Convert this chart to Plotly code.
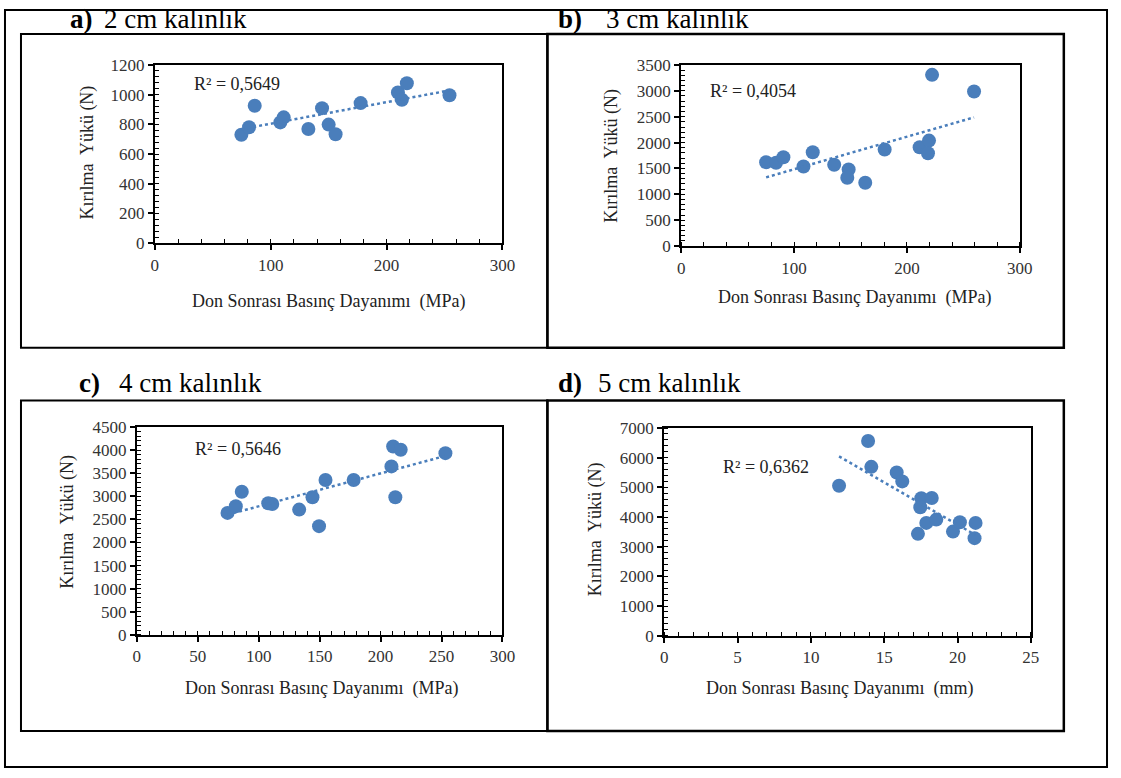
import numpy as np
import plotly.graph_objects as go

W, H = 1121, 778

# ---------------- data ----------------
a_x = [74.7, 81.3, 86.2, 108.3, 111.2, 132.5, 144.3, 150.0, 156.0, 177.6, 209.8, 213.2, 217.5, 254.3]
a_y = [730, 780, 925, 813, 847, 769, 909, 798, 733, 943, 1014, 965, 1077, 996]

b_x = [75.2, 84.0, 90.5, 108.3, 116.5, 135.5, 148.3, 147.1, 163.0, 180.2, 211.2, 219.5, 218.6, 222.2, 259.4]
b_y = [1621, 1609, 1718, 1538, 1814, 1571, 1481, 1321, 1225, 1865, 1910, 2038, 1794, 3308, 2987]

c_x = [74.4, 81.2, 86.1, 107.8, 111.1, 133.2, 144.1, 149.5, 154.8, 177.9, 208.9, 210.3, 216.5, 212.1, 253.2]
c_y = [2640, 2784, 3099, 2849, 2834, 2711, 2978, 2353, 3351, 3351, 3646, 4078, 4005, 2978, 3933]

d_x = [11.92, 13.9, 14.12, 15.85, 16.23, 17.53, 18.24, 17.46, 17.87, 18.55, 17.3, 19.69, 20.16, 21.23, 21.16]
d_y = [5054, 6564, 5691, 5503, 5201, 4631, 4641, 4329, 3802, 3913, 3433, 3510, 3826, 3802, 3289]

r2_labels = ["R² = 0,5649", "R² = 0,4054", "R² = 0,5646", "R² = 0,6362"]
panel_letters = ["a)", "b)", "c)", "d)"]
panel_titles = ["2 cm kalınlık", "3 cm kalınlık", "4 cm kalınlık", "5 cm kalınlık"]
y_title = "Kırılma  Yükü (N)"
x_titles = ["Don Sonrası Basınç Dayanımı  (MPa)", "Don Sonrası Basınç Dayanımı  (MPa)",
            "Don Sonrası Basınç Dayanımı  (MPa)", "Don Sonrası Basınç Dayanımı  (mm)"]

# ---------------- layout geometry ----------------
FONT = "Liberation Serif"
BLUE = "#4A7EBB"

# the page is shown with the browser's default body margin and shrunk to fit;
# convert target screen pixels to figure pixels
SX, SY = W / (W + 16), H / (H + 16)

def fx(X):
    return (X - 4) / SX

def fy(Y):
    return Y / SY - 8

def px(X):
    return min(max(fx(X), 1), W - 1) / W

def py(Y):
    return 1 - min(max(fy(Y), 1), H - 1) / H

panels = [
    dict(x=a_x, y=a_y, xd=(155, 503), yd=(243, 64), xr=(0, 300), xdt=100, xmin=20, yr=(0, 1200), ydt=200, ymin=40,
         r2=(71, 1072)),
    dict(x=b_x, y=b_y, xd=(682, 1021), yd=(246, 64), xr=(0, 300), xdt=100, xmin=20, yr=(0, 3500), ydt=500, ymin=100,
         r2=(64, 3000)),
    dict(x=c_x, y=c_y, xd=(137, 503), yd=(636.5, 427.6), xr=(0, 300), xdt=50, xmin=10, yr=(0, 4500), ydt=500, ymin=100,
         r2=(82.7, 4019)),
    dict(x=d_x, y=d_y, xd=(665, 1032), yd=(637.3, 428.7), xr=(0, 25), xdt=5, xmin=1, yr=(0, 7000), ydt=1000, ymin=200,
         r2=(6.95, 5681)),
]

fig = go.Figure()
layout = dict(width=W, height=H, margin=dict(l=0, r=0, t=0, b=0),
              paper_bgcolor="white", plot_bgcolor="white", showlegend=False,
              font=dict(family=FONT, color="#000"))
annotations = []

for i, p in enumerate(panels):
    n = "" if i == 0 else str(i + 1)
    xa, ya = "x" + n, "y" + n
    fig.add_trace(go.Scatter(x=p["x"], y=p["y"], mode="markers", xaxis=xa, yaxis=ya,
                             marker=dict(size=14, color=BLUE), hoverinfo="skip"))
    k, b0 = np.polyfit(p["x"], p["y"], 1)
    xs = np.array([min(p["x"]), max(p["x"])])
    fig.add_trace(go.Scatter(x=xs, y=k * xs + b0, mode="lines", xaxis=xa, yaxis=ya,
                             line=dict(color=BLUE, width=2.5, dash="dot"), hoverinfo="skip"))
    common = dict(showline=True, linecolor="black", linewidth=2, mirror=True, showgrid=False, zeroline=False,
                  ticks="outside", ticklen=5, tickwidth=1.5, tickcolor="black",
                  tickfont=dict(family=FONT, size=17, color="#333"), fixedrange=True)
    layout["xaxis" + n] = dict(common, domain=[px(p["xd"][0]), px(p["xd"][1])], range=list(p["xr"]),
                               dtick=p["xdt"], tick0=0, anchor=ya,
                               minor=dict(dtick=p["xmin"], ticks="inside", ticklen=4, tickcolor="black", tickwidth=1))
    layout["yaxis" + n] = dict(common, domain=[py(p["yd"][0]), py(p["yd"][1])], range=list(p["yr"]),
                               dtick=p["ydt"], tick0=0, anchor=xa,
                               minor=dict(dtick=p["ymin"], ticks="inside", ticklen=4, tickcolor="black", tickwidth=1))
    annotations.append(dict(x=p["r2"][0], y=p["r2"][1], xref=xa, yref=ya, text=r2_labels[i], showarrow=False,
                            font=dict(family=FONT, size=18, color="#222"), xanchor="center", yanchor="middle"))

ytitle_pos = [(88, 152), (612, 155), (68, 523), (597, 530)]
xtitle_pos = [(329, 302), (855, 298), (322, 690), (840, 690)]
for i in range(4):
    annotations.append(dict(x=px(ytitle_pos[i][0]), y=py(ytitle_pos[i][1]), xref="paper", yref="paper",
                            text=y_title, textangle=-90, showarrow=False,
                            font=dict(family=FONT, size=18, color="#222"), xanchor="center", yanchor="middle"))
    annotations.append(dict(x=px(xtitle_pos[i][0]), y=py(xtitle_pos[i][1]), xref="paper", yref="paper",
                            text=x_titles[i], showarrow=False,
                            font=dict(family=FONT, size=18, color="#222"), xanchor="center", yanchor="middle"))

letter_pos = [(68, 18), (557, 18), (77, 383), (557, 383)]
title_pos = [(102, 18), (605, 18), (117, 383), (597, 383)]
for i in range(4):
    annotations.append(dict(x=px(letter_pos[i][0]), y=py(letter_pos[i][1]), xref="paper", yref="paper",
                            text="<b>" + panel_letters[i] + "</b>", showarrow=False,
                            font=dict(family=FONT, size=27, color="black"), xanchor="left", yanchor="middle"))
    annotations.append(dict(x=px(title_pos[i][0]), y=py(title_pos[i][1]), xref="paper", yref="paper",
                            text=panel_titles[i], showarrow=False,
                            font=dict(family=FONT, size=27, color="black"), xanchor="left", yanchor="middle"))

layout["annotations"] = annotations

rects = [(3, 3, 1117, 775, 2), (21, 33, 548, 348, 2), (548, 33, 1065, 348, 2.5),
         (21, 401, 548, 733, 2), (548, 401, 1065, 733, 2.5)]
layout["shapes"] = [dict(type="rect", xref="paper", yref="paper", x0=px(x0), x1=px(x1), y0=py(y1), y1=py(y0),
                         line=dict(color="black", width=w)) for (x0, y0, x1, y1, w) in rects]

fig.update_layout(**layout)
fig.write_html("out.html")
